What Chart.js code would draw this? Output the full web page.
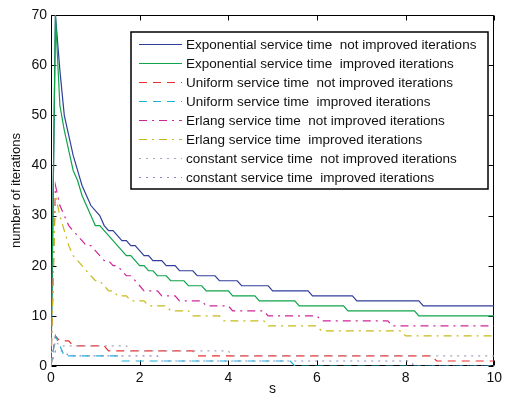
<!DOCTYPE html>
<html>
<head>
<meta charset="utf-8">
<script src="https://cdn.jsdelivr.net/npm/chart.js@4"></script>
<style>
  body { margin: 0; background: #fff; }
  canvas { display: block; }
</style>
</head>
<body>
<canvas id="chart" width="506" height="405"></canvas>
<script>
//* Data (integer iteration counts)

// Exponential service time
const expNotX = [0, 0.1, 0.2, 0.3, 0.4, 0.5, 0.6, 0.7, 0.8, 0.9, 1.0, 1.1, 1.2, 1.3, 1.4, 1.5, 1.6, 1.7, 1.8, 1.9, 2.0,
  2.1, 2.2, 2.3, 2.5, 2.6, 2.8, 2.9, 3.2, 3.3, 3.7, 3.8, 4.2, 4.3, 4.9, 5.0, 5.8, 5.9, 6.8, 6.9, 8.3, 8.4, 10]
const expNotY = [0, 70, 59, 50, 46, 42, 39, 36, 34, 32, 31, 30, 28, 27, 27, 26, 25, 25, 24, 24, 23,
  22, 22, 21, 21, 20, 20, 19, 19, 18, 18, 17, 17, 16, 16, 15, 15, 14, 14, 13, 13, 12, 12]

const expImpX = [0, 0.1, 0.2, 0.3, 0.4, 0.5, 0.6, 0.7, 0.8, 0.9, 1.0, 1.1, 1.2, 1.3, 1.4, 1.5, 1.6, 1.7, 1.8, 1.9, 2.0,
  2.1, 2.2, 2.3, 2.4, 2.6, 2.7, 3.0, 3.1, 3.4, 3.5, 4.0, 4.1, 4.6, 4.7, 5.5, 5.6, 6.6, 6.7, 8.2, 8.3, 10]
const expImpY = [0, 70, 52, 47, 43, 39, 37, 34, 32, 30, 28, 28, 27, 26, 25, 24, 23, 22, 22, 21, 20,
  20, 19, 19, 18, 18, 17, 17, 16, 16, 15, 15, 14, 14, 13, 13, 12, 12, 11, 11, 10, 10]

// Uniform service time
const uniNotX = [0, 0.1, 0.2, 0.4, 0.5, 1.2, 1.3, 3.2, 3.3, 8.6, 8.7, 10]
const uniNotY = [0, 6, 5, 5, 4, 4, 3, 3, 2, 2, 1, 1]

const uniImpX = [0, 0.1, 0.2, 0.3, 1.5, 1.6, 5.4, 5.5, 10]
const uniImpY = [0, 6, 4, 2, 2, 1, 1, 0, 0]

// Erlang service time
const erlNotX = [0, 0.1, 0.2, 0.3, 0.4, 0.5, 0.6, 0.7, 0.8, 0.9, 1.0, 1.1, 1.2, 1.3, 1.4, 1.5, 1.6, 1.7, 1.8, 1.9, 2.0,
  2.1, 2.4, 2.5, 2.8, 2.9, 3.4, 3.5, 4.0, 4.1, 4.8, 4.9, 6.0, 6.1, 7.6, 7.7, 10]
const erlNotY = [0, 36, 32, 30, 28, 27, 26, 25, 24, 24, 23, 22, 21, 21, 20, 20, 19, 18, 18, 17, 16,
  15, 15, 14, 14, 13, 13, 12, 12, 11, 11, 10, 10, 9, 9, 8, 8]

const erlImpX = [0, 0.1, 0.2, 0.3, 0.4, 0.5, 0.6, 0.7, 0.8, 0.9, 1.0, 1.1, 1.2, 1.3, 1.4, 1.5, 1.6, 1.7, 1.8, 1.9, 2.0,
  2.1, 2.2, 2.6, 2.7, 3.1, 3.2, 3.8, 3.9, 4.8, 4.9, 6.0, 6.1, 7.9, 8.0, 10]
const erlImpY = [0, 34, 30, 27, 24, 22, 21, 20, 19, 18, 17, 17, 16, 15, 15, 14, 14, 14, 13, 13, 13,
  13, 12, 12, 11, 11, 10, 10, 9, 9, 8, 8, 7, 7, 6, 6]

// constant service time
const conNotX = [0, 0.1, 0.2, 1.7, 1.8, 4.0, 4.1, 10]
const conNotY = [0, 5, 4, 4, 3, 3, 2, 2]

const conImpX = [0, 0.1, 0.3, 0.4, 2.4, 2.5, 8.1, 8.2, 10]
const conImpY = [0, 3, 3, 2, 2, 1, 1, 0, 0]

//? Labels
const seriesLabels = [
  'Exponential service time  not improved iterations',
  'Exponential service time  improved iterations',
  'Uniform service time  not improved iterations',
  'Uniform service time  improved iterations',
  'Erlang service time  not improved iterations',
  'Erlang service time  improved iterations',
  'constant service time  not improved iterations',
  'constant service time  improved iterations',
]
const xTitle = 's'
const yTitle = 'number of iterations'

//? Styles (MATLAB-ish line specs)
const colors = ['#303f9c', '#0fa449', '#ec3030', '#19b3d6', '#d0259a', '#c6ba1a', '#a4a4ba', '#8a8ad4']
const DASH = [8, 6]
const DASHDOT = [8, 5, 2, 5]
const DOT = [2, 5]
const dashes = [[], [], DASH, DASH, DASHDOT, DASHDOT, DOT, DOT]

const seriesX = [expNotX, expImpX, uniNotX, uniImpX, erlNotX, erlImpX, conNotX, conImpX]
const seriesY = [expNotY, expImpY, uniNotY, uniImpY, erlNotY, erlImpY, conNotY, conImpY]

const FONT = 'Liberation Sans, Arial, Helvetica, sans-serif'

// build datasets
const datasets = seriesLabels.map((label, i) => ({
  label: label,
  data: seriesX[i].map((x, j) => ({ x: x, y: seriesY[i][j] })),
  borderColor: colors[i],
  backgroundColor: colors[i],
  borderDash: dashes[i],
  borderWidth: 1.2,
  pointRadius: 0,
  tension: 0,
  fill: false,
  order: seriesLabels.length - i, // later series on top, like matlab
}))

// frame + inward ticks on all four sides
const boxPlugin = {
  id: 'box',
  beforeDatasetsDraw(chart) {
    const ctx = chart.ctx
    const a = chart.chartArea
    const xs = chart.scales.x
    const ys = chart.scales.y
    const L = Math.round(a.left) + 0.5
    const R = Math.round(a.right) - 0.5
    const T = Math.round(a.top) + 0.5
    const B = Math.round(a.bottom) - 0.5
    ctx.save()
    ctx.strokeStyle = '#000'
    ctx.lineWidth = 1
    ctx.beginPath()
    ctx.rect(L, T, R - L, B - T)
    xs.ticks.forEach(t => {
      let px = Math.round(xs.getPixelForValue(t.value)) + 0.5
      ctx.moveTo(px, B); ctx.lineTo(px, B - 5)
      ctx.moveTo(px, T); ctx.lineTo(px, T + 5)
    })
    ys.ticks.forEach(t => {
      let py = Math.round(ys.getPixelForValue(t.value)) + 0.5
      ctx.moveTo(L, py); ctx.lineTo(L + 5, py)
      ctx.moveTo(R, py); ctx.lineTo(R - 5, py)
    })
    ctx.stroke()
    ctx.restore()
  }
}

// legend box inside the axes (top right)
const legendPlugin = {
  id: 'matLegend',
  afterDraw(chart) {
    const ctx = chart.ctx
    const bx = 131, by = 32, bw = 357, bh = 157
    ctx.save()
    ctx.fillStyle = '#fff'
    ctx.fillRect(bx, by, bw, bh)
    ctx.strokeStyle = '#000'
    ctx.lineWidth = 1.5
    ctx.strokeRect(bx, by, bw, bh)
    ctx.font = '13.5px ' + FONT
    ctx.textBaseline = 'middle'
    ctx.textAlign = 'left'
    chart.data.datasets.forEach((ds, i) => {
      let y = Math.round(44 + i * 19) + 0.5
      ctx.strokeStyle = ds.borderColor
      ctx.lineWidth = 1
      ctx.setLineDash(ds.borderDash)
      ctx.beginPath()
      ctx.moveTo(139, y)
      ctx.lineTo(182, y)
      ctx.stroke()
      ctx.setLineDash([])
      ctx.fillStyle = '#111'
      ctx.fillText(ds.label, 186, y + 0.5)
    })
    ctx.restore()
  }
}

const ctx = document.getElementById('chart').getContext('2d')
const chart = new Chart(ctx, {
  type: 'line',
  data: { datasets: datasets },
  options: {
    responsive: false,
    animation: false,
    layout: { padding: { top: 15, right: 10, left: 0, bottom: 0 } },
    plugins: {
      legend: { display: false },
      tooltip: { enabled: false },
    },
    scales: {
      x: {
        type: 'linear',
        min: 0,
        max: 10,
        grid: { display: false, drawTicks: false },
        border: { display: false },
        ticks: { stepSize: 2, padding: 4, color: '#111', font: { family: FONT, size: 14 } },
        title: { display: true, text: xTitle, color: '#111', font: { family: FONT, size: 14 }, padding: { top: 0, bottom: 7 } },
        afterFit(scale) { scale.height = 39 },
      },
      y: {
        min: 0,
        max: 70,
        grid: { display: false, drawTicks: false },
        border: { display: false },
        ticks: { stepSize: 10, padding: 4, color: '#111', font: { family: FONT, size: 14 } },
        title: { display: true, text: yTitle, color: '#111', font: { family: FONT, size: 13 }, padding: { top: 9, bottom: 0 } },
        afterFit(scale) { scale.width = 51 },
      },
    },
  },
  plugins: [boxPlugin, legendPlugin],
})
console.log('chart drawn')
</script>
</body>
</html>
